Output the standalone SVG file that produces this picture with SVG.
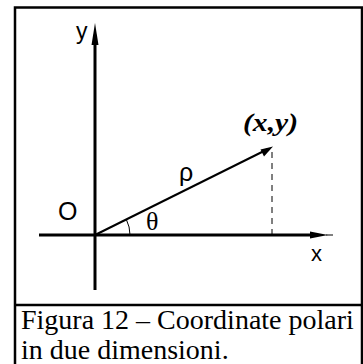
<svg xmlns="http://www.w3.org/2000/svg" width="363" height="364" viewBox="0 0 363 364">
<defs>
<style>
.frame{fill:none;stroke:#000;stroke-width:2.5}
.axis{stroke:#000;stroke-width:3;fill:none}
.sans{font-family:"Liberation Sans",Arial,sans-serif;fill:#000}
.serif{font-family:"Liberation Serif","Times New Roman",serif;fill:#000}
</style>
</defs>
<rect width="363" height="364" fill="#fff"/>
<g id="frame">
<path class="frame" d="M15,364 V7.5 H362 V364"/>
<line x1="15" y1="305" x2="362" y2="305" stroke="#000" stroke-width="2.5"/>
</g>
<g id="connectors">
<line id="y-axis" class="axis" x1="95" y1="290" x2="95" y2="40"/>
<polygon points="95,23 98.5,45 91.5,45" fill="#000"/>
<line id="x-axis" class="axis" x1="39" y1="235" x2="315" y2="235"/>
<polygon points="328,235 310,231.5 310,238.5" fill="#000"/>
<line x1="326" y1="235" x2="333" y2="235" stroke="#000" stroke-width="1"/>
<line id="ray" x1="95" y1="235" x2="268" y2="149" stroke="#000" stroke-width="2"/>
<polygon points="273,146.5 260.5,149.5 264,156.5" fill="#000"/>
<line id="proj" x1="272" y1="152" x2="272" y2="234" stroke="#000" stroke-width="1" stroke-dasharray="6,5"/>
<path id="angle" d="M130,235 A35,35 0 0 0 126.3,219.4" fill="none" stroke="#000" stroke-width="1"/>
</g>
<g id="labels">
<text class="sans" x="76" y="39" font-size="23">y</text>
<text class="sans" x="311" y="261" font-size="22">x</text>
<text class="sans" x="58" y="220" font-size="25">O</text>
<text class="sans" x="179" y="181" font-size="25">ρ</text>
<text class="serif" x="146" y="230" font-size="26">θ</text>
<text class="serif" x="243" y="131" font-size="25" font-weight="bold" font-style="italic" textLength="55" lengthAdjust="spacingAndGlyphs">(x,y)</text>
</g>
<g id="caption">
<text class="serif" x="21" y="329" font-size="28">Figura 12 – Coordinate polari</text>
<text class="serif" x="21" y="359" font-size="28">in due dimensioni.</text>
</g>
</svg>
